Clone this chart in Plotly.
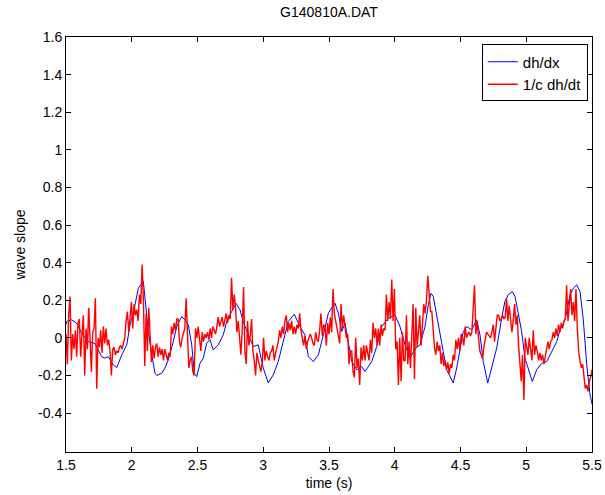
import numpy as np
import plotly.graph_objects as go

title_text = "G140810A.DAT"
x_label = "time (s)"
y_label = "wave slope"
x_ticks = [1.5, 2, 2.5, 3, 3.5, 4, 4.5, 5, 5.5]
y_ticks = [-0.4, -0.2, 0, 0.2, 0.4, 0.6, 0.8, 1, 1.2, 1.4, 1.6]

# dh/dx (blue)
blue_t = [1.500, 1.505, 1.543, 1.581, 1.619, 1.670, 1.721, 1.751, 1.771, 1.797,
          1.822, 1.860, 1.886, 1.924, 1.962, 1.987, 2.025, 2.050, 2.070, 2.088,
          2.101, 2.114, 2.126, 2.152, 2.177, 2.190, 2.202, 2.228, 2.253, 2.278,
          2.316, 2.342, 2.380, 2.405, 2.430, 2.456, 2.476, 2.494, 2.519, 2.544,
          2.570, 2.595, 2.620, 2.658, 2.696, 2.722, 2.760, 2.793, 2.823, 2.848,
          2.886, 2.924, 2.962, 3.000, 3.038, 3.076, 3.114, 3.152, 3.190, 3.236,
          3.279, 3.317, 3.343, 3.381, 3.419, 3.457, 3.495, 3.521, 3.546, 3.571,
          3.597, 3.622, 3.647, 3.673, 3.711, 3.749, 3.774, 3.825, 3.863, 3.901,
          3.951, 4.002, 4.040, 4.078, 4.116, 4.154, 4.192, 4.230, 4.255, 4.276,
          4.293, 4.319, 4.344, 4.369, 4.395, 4.420, 4.445, 4.471, 4.496, 4.521,
          4.547, 4.585, 4.623, 4.648, 4.673, 4.707, 4.737, 4.775, 4.813, 4.838,
          4.864, 4.894, 4.915, 4.940, 4.965, 4.990, 5.016, 5.046, 5.079, 5.118,
          5.156, 5.194, 5.232, 5.257, 5.295, 5.333, 5.358, 5.384, 5.409, 5.434,
          5.460, 5.485, 5.502]
blue_v = [0.070, 0.087, 0.096, 0.078, 0.025, -0.020, -0.030, -0.070, -0.100, -0.108,
          -0.100, -0.144, -0.158, -0.090, -0.037, 0.069, 0.176, 0.264, 0.280, 0.300,
          0.210, 0.122, 0.034, -0.090, -0.188, -0.200, -0.197, -0.188, -0.160, -0.117,
          -0.020, 0.060, 0.113, 0.096, 0.069, -0.037, -0.188, -0.206, -0.135, -0.108,
          -0.028, -0.010, -0.064, -0.037, 0.016, 0.087, 0.140, 0.184, 0.149, 0.087,
          0.016, -0.046, -0.037, -0.160, -0.240, -0.197, -0.126, -0.020, 0.087, 0.126,
          0.060, 0.016, -0.100, -0.126, -0.090, 0.016, 0.131, 0.160, 0.184, 0.131,
          0.034, 0.078, -0.020, -0.126, -0.170, -0.153, -0.179, -0.126, -0.046, 0.060,
          0.105, 0.122, 0.060, -0.037, -0.108, -0.060, -0.037, 0.060, 0.176, 0.237,
          0.220, 0.113, 0.025, -0.073, -0.170, -0.206, -0.240, -0.160, -0.073, 0.034,
          0.060, 0.043, 0.096, 0.016, -0.126, -0.240, -0.160, -0.055, 0.105, 0.195,
          0.230, 0.246, 0.220, 0.131, 0.034, -0.108, -0.170, -0.232, -0.170, -0.135,
          -0.126, -0.073, -0.020, 0.043, 0.096, 0.229, 0.264, 0.282, 0.246, 0.096,
          -0.144, -0.303, -0.356]

# 1/c dh/dt (red), evenly sampled from 1.5 s to 5.5 s
red_v = [
    0.02, -0.14, 0.12, 0.22,
    -0.12, 0.02, -0.06, 0.04, -0.10, 0.08, 0.10, -0.10, 0.02, 0.12,
    -0.20, 0.05, -0.06, 0.16, 0.00, -0.18, 0.03, 0.05, 0.21, -0.27,
    0.00, -0.05, 0.04, -0.08, 0.06, -0.03, 0.05, -0.04, -0.01, -0.07,
    -0.20, -0.06, -0.05, -0.09, -0.07, -0.08, -0.05, -0.04, -0.06, -0.02,
    0.00, 0.09, 0.14, 0.03, 0.10, 0.19, 0.05, 0.18, 0.12, 0.15,
    0.09, 0.23, 0.18, 0.39, 0.20, -0.15, 0.13, -0.07, 0.16, -0.03,
    -0.13, -0.04, -0.11, -0.05, -0.03, -0.10, -0.05, -0.09, -0.06, -0.12,
    -0.06, -0.09, -0.12, -0.08, -0.10, 0.06, 0.02, 0.08, 0.04, 0.10,
    0.10, -0.02, -0.05, 0.00, 0.03, 0.05, 0.21, 0.00, -0.16, -0.12,
    -0.10, -0.18, -0.20, 0.05, 0.00, 0.06, 0.00, -0.07, 0.03, -0.02,
    0.02, 0.00, 0.03, -0.01, 0.05, 0.00, 0.06, 0.04, 0.02, 0.06,
    0.11, 0.06, 0.08, 0.11, 0.06, 0.09, 0.13, 0.08, 0.12, 0.10,
    0.32, 0.15, 0.23, 0.16, 0.03, 0.09, -0.01, -0.09, 0.04, 0.27,
    -0.07, -0.14, 0.09, -0.04, 0.01, 0.10, -0.07, -0.12, -0.20, -0.08,
    -0.12, -0.15, -0.18, -0.13, 0.00, -0.12, -0.07, -0.10, -0.12, -0.08,
    -0.07, -0.04, -0.12, -0.08, -0.05, -0.02, 0.04, 0.00, 0.06, 0.02,
    0.09, 0.12, 0.03, 0.08, 0.04, 0.09, 0.02, 0.06, 0.02, 0.07,
    0.05, 0.13, 0.04, 0.00, -0.04, 0.01, -0.06, -0.02, 0.00, 0.02,
    0.00, -0.03, -0.04, 0.03, -0.01, -0.02, 0.04, 0.13, 0.01, 0.07,
    0.06, -0.04, 0.08, 0.02, 0.11, 0.03, 0.26, 0.13, 0.09, 0.05,
    0.02, -0.03, 0.18, 0.05, 0.12, 0.06, 0.00, 0.02, -0.14, -0.07,
    -0.07, -0.18, -0.21, 0.00, -0.16, -0.11, -0.25, -0.05, -0.12, -0.04,
    -0.12, -0.04, -0.08, -0.12, -0.01, -0.08, 0.08, 0.00, 0.05, -0.04,
    0.05, -0.04, 0.07, 0.01, 0.05, 0.04, 0.23, 0.09, 0.19, 0.10,
    0.31, 0.09, 0.26, -0.06, -0.02, -0.25, 0.00, -0.23, 0.03, -0.12,
    -0.12, 0.12, -0.14, -0.02, -0.16, 0.02, 0.18, -0.22, 0.16, -0.05,
    0.03, 0.12, -0.04, 0.09, 0.18, 0.13, 0.20, 0.33, 0.21, 0.14,
    0.14, 0.03, -0.05, -0.09, -0.02, -0.07, -0.04, -0.14, -0.08, -0.15,
    -0.12, -0.17, -0.13, -0.19, -0.14, -0.16, -0.09, -0.12, -0.01, -0.06,
    0.00, -0.07, 0.02, 0.00, -0.04, 0.06, 0.00, 0.02, 0.03, 0.01,
    0.03, 0.16, 0.28, 0.02, 0.09, 0.00, -0.07, -0.09, -0.11, -0.05,
    0.00, 0.03, 0.02, 0.01, 0.00, 0.03, 0.07, -0.02, 0.05, 0.12,
    0.12, 0.09, 0.10, 0.12, 0.10, 0.11, 0.21, 0.09, 0.17, 0.08,
    0.03, 0.09, 0.18, 0.07, 0.12, -0.04, -0.135, -0.23, -0.09, -0.33,
    0.00, -0.05, -0.09, 0.00, -0.05, -0.12, 0.04, -0.09, -0.04, -0.07,
    -0.12, -0.08, -0.12, -0.09, -0.14, -0.10, -0.07, -0.02, -0.06, -0.02,
    -0.01, 0.03, 0.00, 0.05, 0.01, 0.07, 0.03, 0.08, 0.05, 0.09,
    0.10, 0.28, 0.09, 0.19, 0.26, 0.12, 0.19, 0.09, 0.26, 0.05,
    -0.07, -0.12, -0.16, -0.14, -0.21, -0.27, -0.25, -0.285, -0.23, -0.21,
    -0.17,
]
red_t = np.linspace(1.5, 5.5, len(red_v))

FONT = "Liberation Sans, Arial, Helvetica, sans-serif"

fig = go.Figure()
fig.add_trace(go.Scatter(x=blue_t, y=blue_v, mode="lines", name="dh/dx",
                         line=dict(color="#0000ff", width=1)))
fig.add_trace(go.Scatter(x=red_t, y=red_v, mode="lines", name="1/c dh/dt",
                         line=dict(color="#ff0000", width=1.4)))

axis_common = dict(showline=True, linecolor="black", linewidth=1, mirror="ticks",
                   ticks="inside", ticklen=5, tickcolor="black", tickwidth=1,
                   showgrid=False, zeroline=False, automargin=False,
                   tickfont=dict(family=FONT, size=14, color="black"))

fig.update_xaxes(range=[1.5, 5.5], tickvals=x_ticks,
                 ticktext=[f"{v:g}" for v in x_ticks],
                 title=dict(text=x_label, font=dict(family=FONT, size=14, color="black"),
                            standoff=6),
                 **axis_common)
fig.update_yaxes(range=[-0.607, 1.6], tickvals=y_ticks,
                 ticktext=[f"{v:g}" for v in y_ticks],
                 title=dict(text=y_label, font=dict(family=FONT, size=14, color="black"),
                            standoff=9),
                 **axis_common)

fig.update_layout(
    width=605, height=495,
    margin=dict(l=66, r=13, t=37, b=43, autoexpand=False),
    paper_bgcolor="white", plot_bgcolor="white",
    title=dict(text=title_text, x=329 / 605, xanchor="center",
               y=1 - 12 / 495, yanchor="middle",
               font=dict(family=FONT, size=14, color="black")),
    legend=dict(x=0.992, xanchor="right", y=0.982, yanchor="top",
                bgcolor="white", bordercolor="black", borderwidth=1,
                font=dict(family=FONT, size=15, color="black"),
                tracegroupgap=0, itemwidth=30),
    showlegend=True,
)

fig.write_html("out.html")
